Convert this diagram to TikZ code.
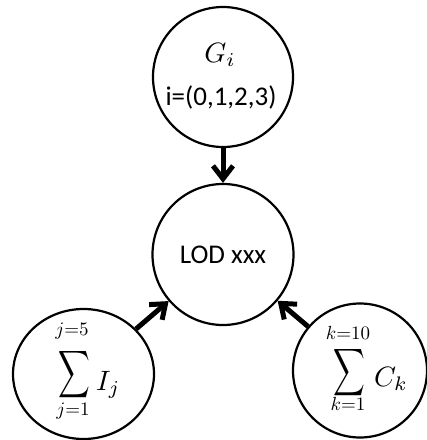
\documentclass[tikz,border=0pt]{standalone}
\usepackage[no-math]{fontspec}
\setmainfont{Carlito}
\usepackage{graphicx}
\usetikzlibrary{arrows.meta,shapes.geometric}
\newcommand{\mbig}[1]{\scalebox{2.8}{$#1$}}
\newcommand{\mlim}[1]{\scalebox{1.9}{$#1$}}
\newcommand{\msum}{\scalebox{2.2}[3.3]{$\displaystyle\sum$}}
\begin{document}
\begin{tikzpicture}[x=1pt,y=-1pt,
  ring/.style={draw, line width=2.2pt, circle, minimum size=#1, inner sep=0pt},
  oval/.style 2 args={draw, line width=2.2pt, ellipse, minimum width=#1, minimum height=#2, inner sep=0pt},
  link/.style={line width=5pt, -{Straight Barb[length=13pt,width=20pt]}},
  big/.style={font=\fontsize{27}{32}\selectfont, inner sep=0pt},
  mth/.style={inner sep=0pt}]
\useasboundingbox (0,0) rectangle (427,440);
\clip (0,0) rectangle (427,440);
% circles
\node[ring=140pt] (G) at (223,77) {};
\node[ring=141pt] (L) at (223,254.5) {};
\node[oval={141pt}{130pt}] (I) at (83.5,374) {};
\node[ring=134pt] (C) at (360,370.5) {};
% texts
\node[mth, anchor=base] (Gt) at (220,62) {\mbig{G_i}};
\node[big, anchor=base] (Gr) at (221,105) {i=(0,1,2,3)};
\node[big, anchor=base] (Lt) at (223,263) {LOD xxx};
\node[mth] (Is) at (74,375) {\msum};
\node[mth] (Iu) at (72,331) {\mlim{j{=}5}};
\node[mth] (Id) at (73,411) {\mlim{j{=}1}};
\node[mth, anchor=base west] (Io) at (96,390) {\mbig{I_j}};
\node[mth] (Cs) at (349,373) {\msum};
\node[mth] (Cu) at (348,333) {\mlim{k{=}10}};
\node[mth] (Cd) at (348,404) {\mlim{k{=}1}};
\node[mth, anchor=base west] (Co) at (374,386) {\mbig{C_k}};
% connectors
\draw[link] (G) -- (L);
\draw[link] (I) -- (L);
\draw[link] (C) -- (L);
\end{tikzpicture}
\end{document}
